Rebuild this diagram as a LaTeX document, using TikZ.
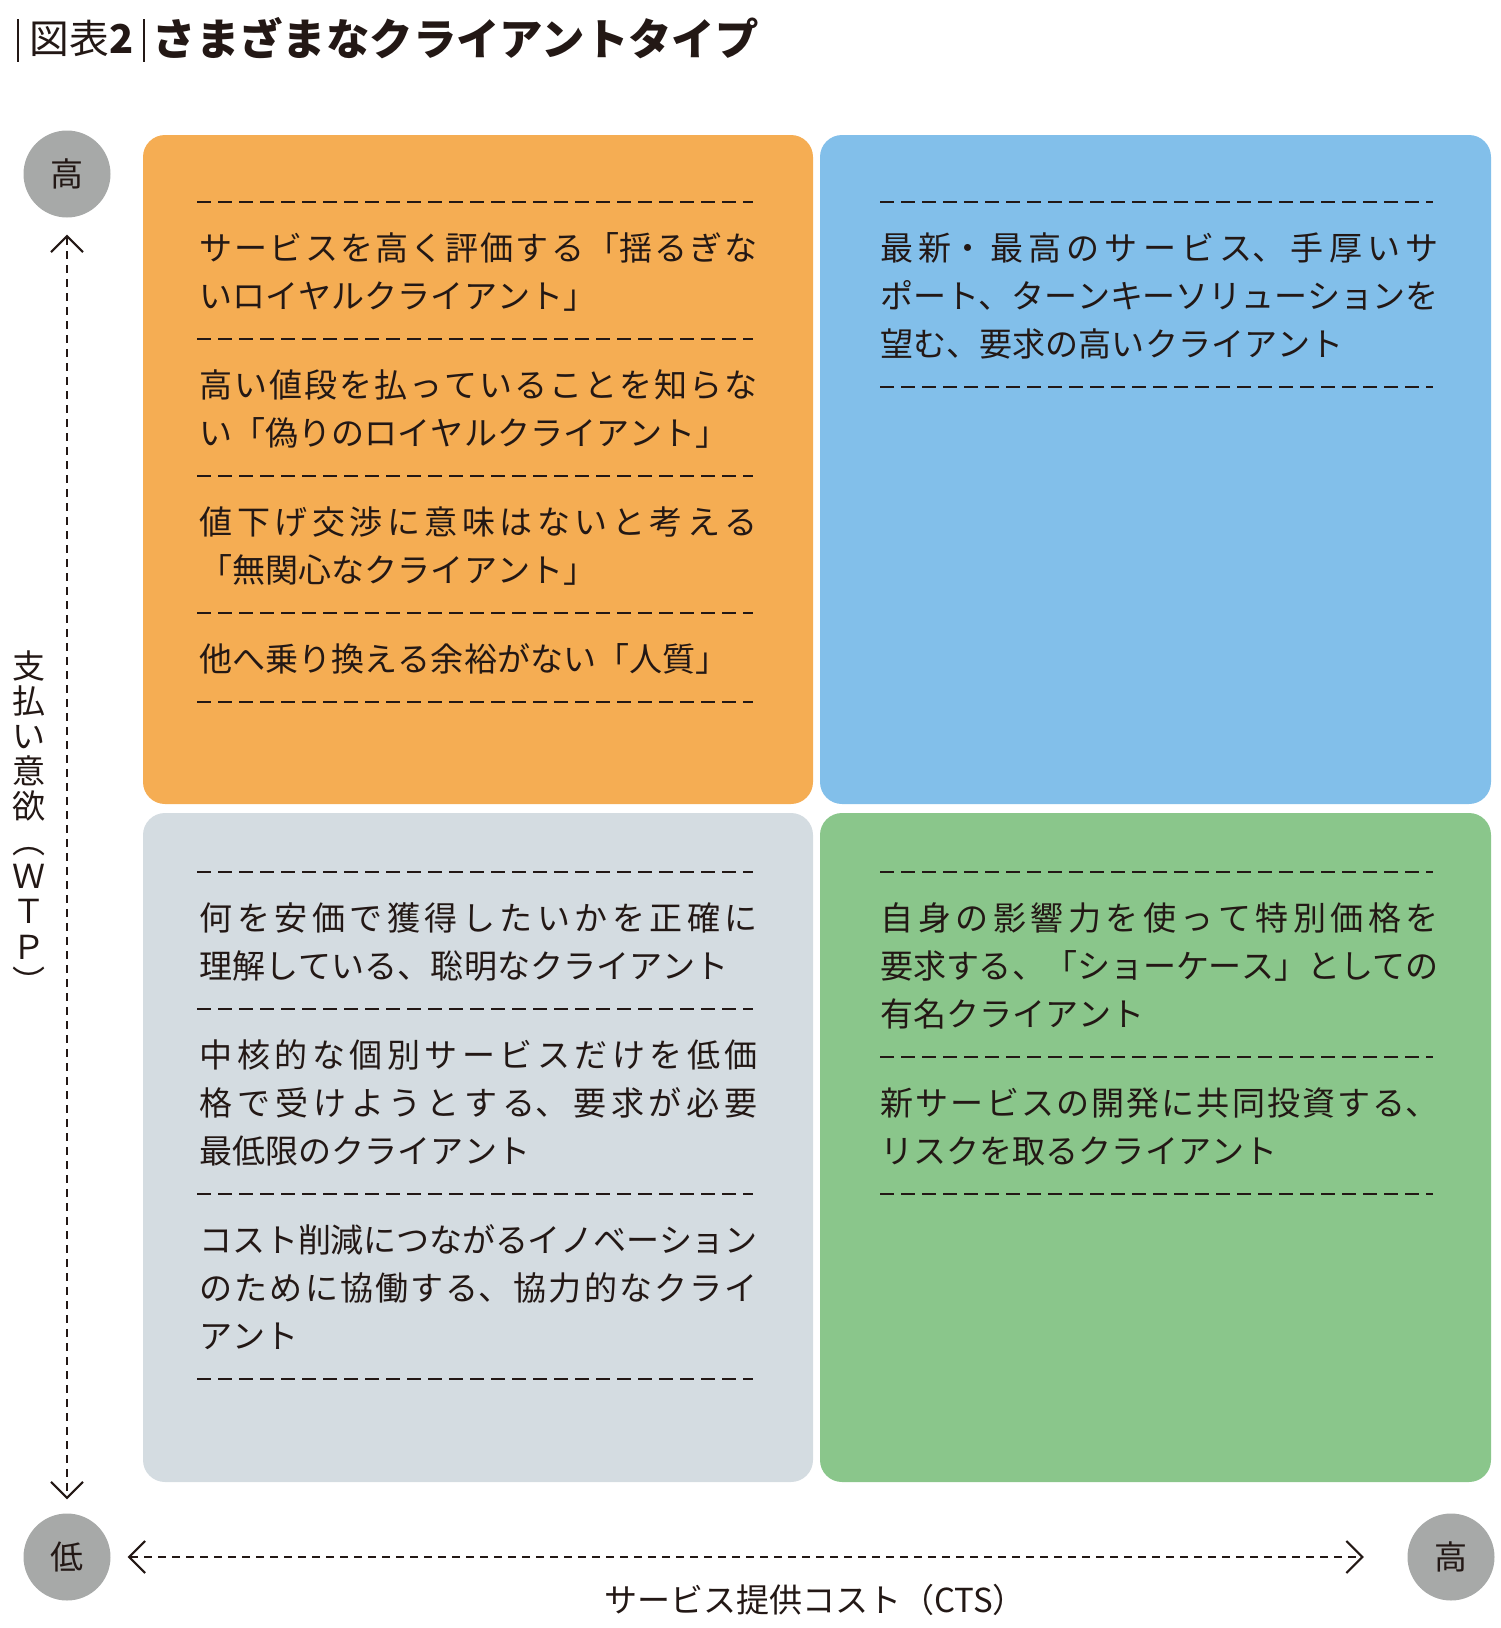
\documentclass[tikz,border=0pt]{standalone}
\usepackage{fontspec}
\setmainfont{Noto Sans CJK JP}
\usetikzlibrary{arrows.meta}

% Zeilenumbruch und Blocksatz fuer japanischen Text
\XeTeXlinebreaklocale "ja"
\XeTeXlinebreakskip=0pt plus 0.5em minus 0.05em
\hbadness=10000

\definecolor{typeorange}{HTML}{F5AD53}
\definecolor{typeblue}{HTML}{82BFEA}
\definecolor{typegrey}{HTML}{D4DCE1}
\definecolor{typegreen}{HTML}{8AC68B}
\definecolor{levelgrey}{HTML}{A7A9A8}
\definecolor{inkblack}{HTML}{231815}

\newcommand{\bodyfont}{\fontsize{9.4pt}{13.66pt}\selectfont}

\tikzset{
  quadtext/.style={anchor=base west, text width=5.58cm, align=justify,
    inner sep=0pt, font=\bodyfont, text=inkblack},
  sepline/.style={draw=inkblack, line width=0.45pt, dash pattern=on 0.14cm off 0.07cm},
  axisline/.style={draw=inkblack, line width=0.6pt, dash pattern=on 0.08cm off 0.06cm,
    {Straight Barb[length=0.16cm,width=0.32cm]}-{Straight Barb[length=0.16cm,width=0.32cm]}},
  levelmark/.style={circle, fill=levelgrey, minimum size=0.87cm, inner sep=0pt,
    text=inkblack, font=\fontsize{9.4pt}{9.4pt}\selectfont},
  titlebar/.style={draw=inkblack, line width=0.4pt}
}

\begin{document}
\begin{tikzpicture}[x=1cm, y=-1cm, line join=round]
  \useasboundingbox (0,0) rectangle (15,16.28);

  % Titel
  \draw[titlebar] (0.18,0.19) -- (0.18,0.62);
  \node[anchor=base west, inner sep=0pt, text=inkblack,
        font=\fontsize{11.3pt}{11.3pt}\selectfont] (figno) at (0.29,0.54) {図表\textbf{2}};
  \draw[titlebar] (1.44,0.19) -- (1.44,0.62);
  \node[anchor=base west, inner sep=0pt, text=inkblack,
        font=\fontsize{12.35pt}{12.35pt}\selectfont\bfseries] (figtitle) at (1.52,0.55) {さまざまなクライアントタイプ};

  % Die vier Felder
  \fill[typeorange, rounded corners=0.22cm] (1.43,1.35) rectangle (8.13,8.04);
  \fill[typeblue, rounded corners=0.22cm] (8.20,1.35) rectangle (14.91,8.04);
  \fill[typegrey, rounded corners=0.22cm] (1.43,8.13) rectangle (8.13,14.82);
  \fill[typegreen, rounded corners=0.22cm] (8.20,8.13) rectangle (14.91,14.82);

  % Feld oben links
  \draw[sepline] (1.97,2.02) -- (7.53,2.02);
  \node[quadtext] (loyal) at (1.99,2.60) {サービスを高く評価する「揺るぎな\linebreak いロイヤルクライアント」};
  \draw[sepline] (1.97,3.39) -- (7.53,3.39);
  \node[quadtext] (falseloyal) at (1.99,3.97) {高い値段を払っていることを知らな\linebreak い「偽りのロイヤルクライアント」};
  \draw[sepline] (1.97,4.76) -- (7.53,4.76);
  \node[quadtext] (apathetic) at (1.99,5.34) {値下げ交渉に意味はないと考える\linebreak 「無関心なクライアント」};
  \draw[sepline] (1.97,6.13) -- (7.53,6.13);
  \node[quadtext] (hostage) at (1.99,6.71) {他へ乗り換える余裕がない「人質」};
  \draw[sepline] (1.97,7.02) -- (7.53,7.02);

  % Feld oben rechts
  \draw[sepline] (8.80,2.02) -- (14.33,2.02);
  \node[quadtext] (demanding) at (8.80,2.60) {最新・最高のサービス、手厚いサ\linebreak ポート、ターンキーソリューションを\linebreak 望む、要求の高いクライアント};
  \draw[sepline] (8.80,3.87) -- (14.33,3.87);

  % Feld unten links
  \draw[sepline] (1.97,8.72) -- (7.53,8.72);
  \node[quadtext] (savvy) at (1.99,9.30) {何を安価で獲得したいかを正確に\linebreak 理解している、聡明なクライアント};
  \draw[sepline] (1.97,10.09) -- (7.53,10.09);
  \node[quadtext] (barebones) at (1.99,10.67) {中核的な個別サービスだけを低価\linebreak 格で受けようとする、要求が必要\linebreak 最低限のクライアント};
  \draw[sepline] (1.97,11.94) -- (7.53,11.94);
  \node[quadtext] (partner) at (1.99,12.52) {コスト削減につながるイノベーション\linebreak のために協働する、協力的なクライ\linebreak アント};
  \draw[sepline] (1.97,13.79) -- (7.53,13.79);

  % Feld unten rechts
  \draw[sepline] (8.80,8.72) -- (14.33,8.72);
  \node[quadtext] (showcase) at (8.80,9.30) {自身の影響力を使って特別価格を\linebreak 要求する、「ショーケース」としての\linebreak 有名クライアント};
  \draw[sepline] (8.80,10.57) -- (14.33,10.57);
  \node[quadtext] (riskshare) at (8.80,11.15) {新サービスの開発に共同投資する、\linebreak リスクを取るクライアント};
  \draw[sepline] (8.80,11.94) -- (14.33,11.94);

  % Achsen
  \node[levelmark] (wtphigh) at (0.67,1.74) {高};
  \node[levelmark] (wtplow) at (0.67,15.57) {低};
  \node[levelmark] (ctshigh) at (14.51,15.57) {高};
  \draw[axisline, shorten <=0.165cm, shorten >=0.135cm] (wtphigh) -- (wtplow);
  \draw[axisline, shorten <=0.165cm, shorten >=0.43cm] (wtplow) -- (ctshigh);

  \node[anchor=base, align=center, inner sep=0pt, text=inkblack,
        font=\fontsize{9.4pt}{9.96pt}\selectfont] (wtplabel) at (0.29,9.94)
        {支\\払\\い\\意\\欲\\︵\\Ｗ\\Ｔ\\Ｐ\\︶};
  \node[anchor=base, inner sep=0pt, text=inkblack,
        font=\fontsize{9.4pt}{9.4pt}\selectfont] (ctslabel) at (8.15,16.12) {サービス提供コスト（CTS）};
\end{tikzpicture}
\end{document}
